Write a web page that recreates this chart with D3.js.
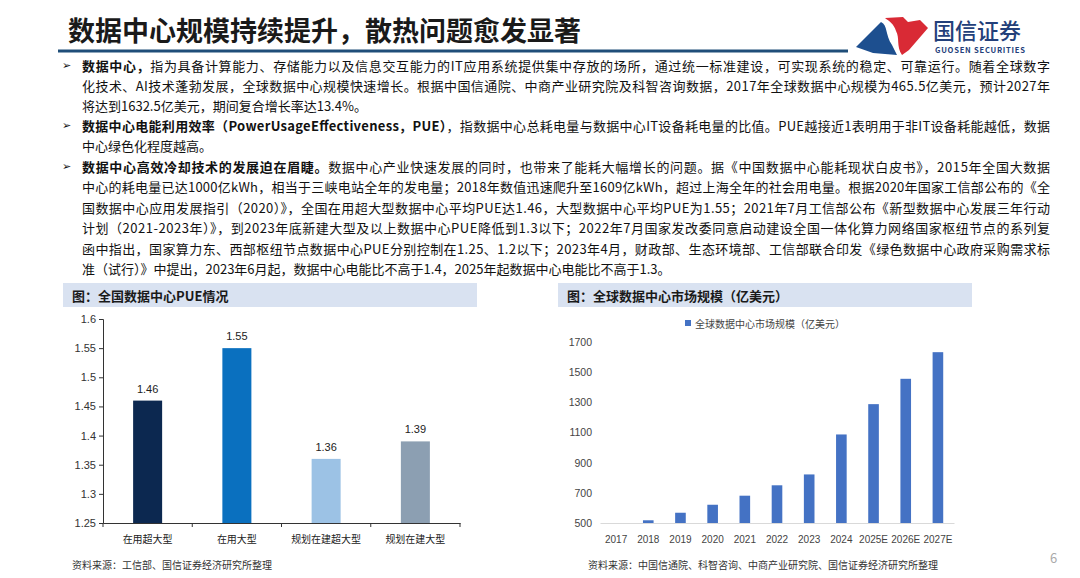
<!DOCTYPE html>
<html>
<head>
<meta charset="UTF-8">
<title>数据中心规模持续提升</title>
<script src="https://d3js.org/d3.v7.min.js"></script>
<style>
  body {margin:0; background:#fff;}
  svg {display:block; font-family:"Noto Sans CJK SC","Noto Sans",sans-serif;}
  .num {font-family:Arial,"Liberation Sans",sans-serif;}
</style>
</head>
<body>
<div id="chart"></div>
<script>
// ---- data ----
var pueCats = ["在用超大型", "在用大型", "规划在建超大型", "规划在建大型"];
var pueValues = [1.46, 1.55, 1.36, 1.39];
var pueColors = ["#0c2850", "#0a70bf", "#9cc2e5", "#8c9fb2"];
var pueTicks = [1.25, 1.3, 1.35, 1.4, 1.45, 1.5, 1.55, 1.6];

var years = ["2017", "2018", "2019", "2020", "2021", "2022", "2023", "2024", "2025E", "2026E", "2027E"];
var marketSize = [465.5, 518, 568, 621, 681, 750, 822, 1087, 1288, 1456, 1632.5];
var marketTicks = [500, 700, 900, 1100, 1300, 1500, 1700];

var W = 1080, H = 578;
var svg = d3.select("#chart").append("svg")
    .attr("width", W)
    .attr("height", H);

// ---- header ----
svg.append("text")
    .attr("x", 68).attr("y", 29)
    .attr("dominant-baseline", "central")
    .attr("font-size", 27).attr("font-weight", 700)
    .attr("fill", "#1a1a1a")
    .text("数据中心规模持续提升，散热问题愈发显著");

svg.append("line")
    .attr("x1", 58).attr("x2", 848)
    .attr("y1", 51).attr("y2", 51)
    .attr("stroke", "#1f4e79").attr("stroke-width", 3);

// logo
var logo = svg.append("g");
logo.append("path")
    .attr("d", "M856,47 L881,22 C888,25 885,35 892,45 L897,55 L873,53 Z")
    .attr("fill", "#1d4f8f");
logo.append("path")
    .attr("d", "M885,18 L903,17 L908,22 L920,20 L928,28 L909,50 L902,55 C896,46 900,38 896,31 C894,24 889,21 885,18 Z")
    .attr("fill", "#d92a35");
logo.append("text")
    .attr("x", 933).attr("y", 29)
    .attr("dominant-baseline", "central")
    .attr("font-size", 22).attr("font-weight", 500)
    .attr("fill", "#23407a")
    .text("国信证券");
logo.append("text")
    .attr("x", 935).attr("y", 49)
    .attr("dominant-baseline", "central")
    .attr("font-size", 7.6).attr("font-weight", 700)
    .attr("fill", "#23407a")
    .attr("textLength", 90)
    .text("GUOSEN SECURITIES");

// ---- bullet text ----
var lines = [
  {y: 65, bullet: true, just: true, segs: [["数据中心，", 1], ["指为具备计算能力、存储能力以及信息交互能力的IT应用系统提供集中存放的场所，通过统一标准建设，可实现系统的稳定、可靠运行。随着全球数字", 0]]},
  {y: 85, just: true, segs: [["化技术、AI技术蓬勃发展，全球数据中心规模快速增长。根据中国信通院、中商产业研究院及科智咨询数据，2017年全球数据中心规模为465.5亿美元，预计2027年", 0]]},
  {y: 105, segs: [["将达到1632.5亿美元，期间复合增长率达13.4%。", 0]]},
  {y: 125, bullet: true, just: true, segs: [["数据中心电能利用效率（PowerUsageEffectiveness，PUE）", 1], ["，指数据中心总耗电量与数据中心IT设备耗电量的比值。PUE越接近1表明用于非IT设备耗能越低，数据", 0]]},
  {y: 145, segs: [["中心绿色化程度越高。", 0]]},
  {y: 166, bullet: true, just: true, segs: [["数据中心高效冷却技术的发展迫在眉睫。", 1], ["数据中心产业快速发展的同时，也带来了能耗大幅增长的问题。据《中国数据中心能耗现状白皮书》，2015年全国大数据", 0]]},
  {y: 186, just: true, segs: [["中心的耗电量已达1000亿kWh，相当于三峡电站全年的发电量；2018年数值迅速爬升至1609亿kWh，超过上海全年的社会用电量。根据2020年国家工信部公布的《全", 0]]},
  {y: 207, just: true, segs: [["国数据中心应用发展指引（2020）》，全国在用超大型数据中心平均PUE达1.46，大型数据中心平均PUE为1.55；2021年7月工信部公布《新型数据中心发展三年行动", 0]]},
  {y: 227, just: true, segs: [["计划（2021-2023年）》，到2023年底新建大型及以上数据中心PUE降低到1.3以下；2022年7月国家发改委同意启动建设全国一体化算力网络国家枢纽节点的系列复", 0]]},
  {y: 248, just: true, segs: [["函中指出，国家算力东、西部枢纽节点数据中心PUE分别控制在1.25、1.2以下；2023年4月，财政部、生态环境部、工信部联合印发《绿色数据中心政府采购需求标", 0]]},
  {y: 268, segs: [["准（试行）》中提出，2023年6月起，数据中心电能比不高于1.4，2025年起数据中心电能比不高于1.3。", 0]]}
];

var textX = 82, textRight = 1050;
lines.forEach(function(l) {
  if (l.bullet) {
    svg.append("text")
        .attr("x", 62).attr("y", l.y)
        .attr("dominant-baseline", "central")
        .attr("font-family", "'DejaVu Sans', sans-serif")
        .attr("font-size", 11).attr("fill", "#111")
        .text("➢");
  }
  var t = svg.append("text")
      .attr("x", textX).attr("y", l.y)
      .attr("dominant-baseline", "central")
      .attr("font-size", 13).attr("fill", "#111");
  l.segs.forEach(function(s) {
    t.append("tspan")
        .attr("font-weight", s[1] ? 700 : 400)
        .text(s[0]);
  });
  if (l.just) {
    t.attr("textLength", textRight - textX).attr("lengthAdjust", "spacing");
  }
});

// ---- chart title boxes ----
function titleBox(x, w, label) {
  svg.append("rect")
      .attr("x", x).attr("y", 283)
      .attr("width", w).attr("height", 24)
      .attr("fill", "#d9e2f1");
  svg.append("text")
      .attr("x", x + 9).attr("y", 295)
      .attr("dominant-baseline", "central")
      .attr("font-size", 13).attr("font-weight", 700)
      .attr("fill", "#1a1a1a")
      .text(label);
}
titleBox(63, 414, "图：全国数据中心PUE情况");
titleBox(558, 414, "图：全球数据中心市场规模（亿美元）");

// ---- left chart: PUE ----
var lx = d3.scaleBand().domain(pueCats).range([103, 460]).padding(0);
var ly = d3.scaleLinear().domain([1.25, 1.6]).range([523, 319]);
var barW = lx.bandwidth() * 0.325;

var left = svg.append("g");

left.selectAll(".pue")
    .data(pueValues)
    .enter().append("rect")
    .attr("x", function(d, i) { return lx(pueCats[i]) + (lx.bandwidth() - barW) / 2; })
    .attr("y", function(d) { return ly(d); })
    .attr("width", barW)
    .attr("height", function(d) { return ly(1.25) - ly(d); })
    .attr("fill", function(d, i) { return pueColors[i]; });

left.selectAll(".pueLabel")
    .data(pueValues)
    .enter().append("text")
    .attr("class", "num")
    .attr("x", function(d, i) { return lx(pueCats[i]) + lx.bandwidth() / 2; })
    .attr("y", function(d) { return ly(d) - 8; })
    .attr("text-anchor", "middle")
    .attr("font-size", 11).attr("fill", "#222")
    .text(function(d) { return d3.format(".2f")(d); });

var yAxisL = left.append("g")
    .attr("transform", "translate(103,0)")
    .call(d3.axisLeft(ly).tickValues(pueTicks).tickSize(4).tickFormat(function(d) { return String(+d.toFixed(2)); }));
yAxisL.select(".domain").attr("stroke", "#333");
yAxisL.selectAll(".tick line").attr("stroke", "#333");
yAxisL.selectAll(".tick text")
    .attr("font-family", "Arial, 'Liberation Sans', sans-serif")
    .attr("font-size", 11).attr("fill", "#333");

var xAxisL = left.append("g")
    .attr("transform", "translate(0,523)")
    .call(d3.axisBottom(lx).tickSize(0).tickPadding(13));
xAxisL.select(".domain").attr("stroke", "#333");
xAxisL.selectAll(".tick text")
    .attr("font-family", "'Noto Sans CJK SC', sans-serif")
    .attr("font-size", 10).attr("fill", "#222");
// boundary ticks between categories
left.selectAll(".bnd")
    .data(d3.range(pueCats.length + 1))
    .enter().append("line")
    .attr("x1", function(i) { return 103 + i * lx.step(); })
    .attr("x2", function(i) { return 103 + i * lx.step(); })
    .attr("y1", 523).attr("y2", 527)
    .attr("stroke", "#333");

svg.append("text")
    .attr("x", 72).attr("y", 564)
    .attr("dominant-baseline", "central")
    .attr("font-size", 10).attr("fill", "#333")
    .text("资料来源：工信部、国信证券经济研究所整理");

// ---- right chart: market size ----
var rx = d3.scaleBand().domain(years).range([600, 954]).padding(0);
var ry = d3.scaleLinear().domain([500, 1700]).range([523, 342]);
var rBarW = rx.bandwidth() * 0.33;

var right = svg.append("g");

right.selectAll(".mk")
    .data(marketSize)
    .enter().append("rect")
    .attr("x", function(d, i) { return rx(years[i]) + (rx.bandwidth() - rBarW) / 2; })
    .attr("y", function(d) { return Math.min(ry(d), ry(500)); })
    .attr("width", rBarW)
    .attr("height", function(d) { return Math.max(0, ry(500) - ry(d)); })
    .attr("fill", "#4472c4");

var yAxisR = right.append("g")
    .attr("transform", "translate(600,0)")
    .call(d3.axisLeft(ry).tickValues(marketTicks).tickSize(0).tickPadding(8).tickFormat(d3.format("d")));
yAxisR.select(".domain").remove();
yAxisR.selectAll(".tick text")
    .attr("font-family", "Arial, 'Liberation Sans', sans-serif")
    .attr("font-size", 10.5).attr("fill", "#444");

var xAxisR = right.append("g")
    .attr("transform", "translate(0,523)")
    .call(d3.axisBottom(rx).tickSize(0).tickPadding(13));
xAxisR.select(".domain").attr("stroke", "#d9d9d9");
xAxisR.selectAll(".tick text")
    .attr("font-family", "Arial, 'Liberation Sans', sans-serif")
    .attr("font-size", 10).attr("fill", "#444");

// legend
right.append("rect")
    .attr("x", 685).attr("y", 320)
    .attr("width", 6).attr("height", 6)
    .attr("fill", "#4472c4");
right.append("text")
    .attr("x", 695).attr("y", 323)
    .attr("dominant-baseline", "central")
    .attr("font-size", 10).attr("fill", "#444")
    .text("全球数据中心市场规模（亿美元）");

svg.append("text")
    .attr("x", 588).attr("y", 564)
    .attr("dominant-baseline", "central")
    .attr("font-size", 10).attr("fill", "#333")
    .text("资料来源：中国信通院、科智咨询、中商产业研究院、国信证券经济研究所整理");

// page number
svg.append("text")
    .attr("x", 1050).attr("y", 557)
    .attr("dominant-baseline", "central")
    .attr("font-size", 13).attr("fill", "#aaa")
    .text("6");
</script>
</body>
</html>
